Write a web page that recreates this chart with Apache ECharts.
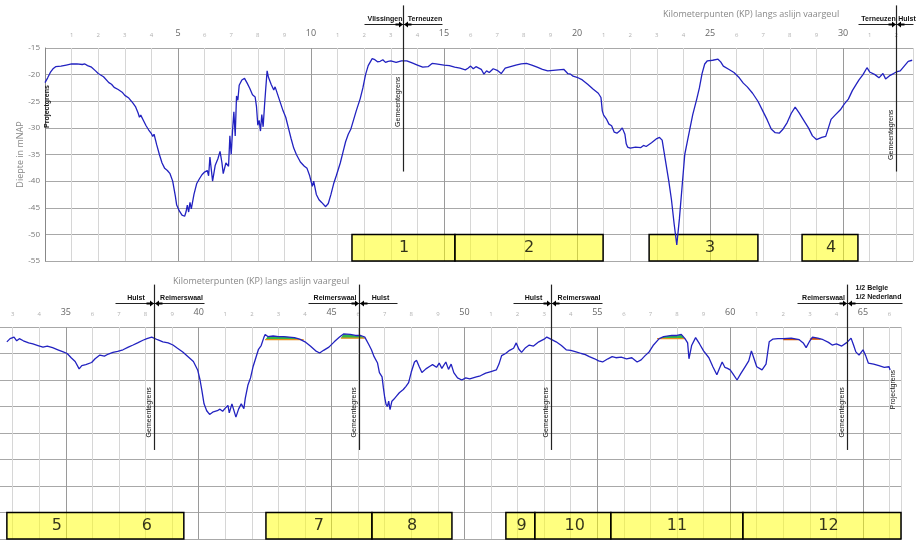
<!DOCTYPE html>
<html><head><meta charset="utf-8">
<script src="https://cdn.jsdelivr.net/npm/echarts@6/dist/echarts.min.js"></script>
<style>html,body{margin:0;padding:0;background:#fff}#c{width:922px;height:545px}</style>
</head><body><div id="c"></div>
<script>
// ---------- DATA ----------
const topProfile = [[0.0,-21.5],[0.1,-20.6],[0.2,-19.6],[0.3,-18.9],[0.4,-18.5],[0.6,-18.4],[0.8,-18.2],[1.0,-18.0],[1.2,-18.0],[1.4,-18.1],[1.5,-18.0],[1.6,-18.3],[1.75,-18.6],[1.9,-19.3],[2.0,-19.8],[2.2,-20.4],[2.4,-21.5],[2.5,-21.8],[2.6,-22.4],[2.75,-22.8],[2.9,-23.3],[3.0,-23.9],[3.15,-24.4],[3.3,-25.3],[3.4,-26.0],[3.5,-27.2],[3.55,-28.0],[3.6,-27.6],[3.7,-28.6],[3.8,-29.6],[3.9,-30.4],[4.0,-31.1],[4.05,-31.6],[4.1,-31.2],[4.2,-33.2],[4.3,-35.0],[4.4,-36.6],[4.5,-37.6],[4.6,-38.0],[4.7,-38.6],[4.8,-40.0],[4.9,-42.8],[4.95,-44.5],[5.05,-45.6],[5.15,-46.4],[5.25,-46.6],[5.3,-45.8],[5.35,-44.5],[5.4,-45.8],[5.45,-44.0],[5.5,-45.2],[5.6,-42.5],[5.7,-40.5],[5.8,-39.6],[5.9,-38.8],[6.0,-38.3],[6.1,-38.0],[6.15,-39.0],[6.2,-35.5],[6.3,-40.0],[6.4,-37.0],[6.5,-35.8],[6.58,-34.4],[6.65,-36.5],[6.7,-38.6],[6.8,-36.6],[6.9,-37.2],[6.95,-31.5],[7.0,-35.0],[7.05,-30.5],[7.1,-27.0],[7.15,-31.5],[7.2,-24.0],[7.25,-24.8],[7.3,-22.0],[7.4,-21.0],[7.5,-20.7],[7.6,-21.6],[7.7,-22.6],[7.8,-23.8],[7.9,-24.2],[7.95,-26.0],[8.0,-29.5],[8.05,-28.6],[8.1,-30.6],[8.15,-27.5],[8.2,-29.8],[8.25,-26.0],[8.3,-22.5],[8.35,-19.3],[8.4,-20.5],[8.5,-21.8],[8.6,-22.9],[8.65,-22.3],[8.75,-23.8],[8.85,-25.3],[8.95,-26.8],[9.05,-28.0],[9.15,-30.0],[9.25,-32.0],[9.35,-33.8],[9.45,-35.0],[9.6,-36.4],[9.75,-37.2],[9.85,-37.6],[9.95,-39.0],[10.05,-41.0],[10.1,-40.0],[10.2,-42.5],[10.3,-43.5],[10.4,-44.0],[10.55,-44.8],[10.65,-44.2],[10.75,-42.5],[10.85,-40.5],[10.95,-39.0],[11.1,-36.6],[11.2,-34.6],[11.3,-32.6],[11.4,-31.2],[11.5,-30.2],[11.6,-28.5],[11.7,-26.8],[11.85,-24.5],[11.95,-22.5],[12.05,-20.0],[12.15,-18.3],[12.3,-17.0],[12.4,-17.2],[12.5,-17.6],[12.6,-17.5],[12.7,-17.2],[12.8,-17.7],[12.9,-17.5],[13.0,-17.4],[13.2,-17.7],[13.4,-17.4],[13.6,-17.4],[13.8,-17.8],[14.0,-18.2],[14.2,-18.6],[14.4,-18.5],[14.55,-17.9],[14.7,-18.0],[15.0,-18.2],[15.2,-18.3],[15.4,-18.6],[15.6,-18.8],[15.8,-19.1],[15.9,-18.8],[16.0,-18.4],[16.1,-18.9],[16.2,-18.5],[16.4,-19.0],[16.5,-19.9],[16.6,-19.3],[16.7,-19.6],[16.85,-18.9],[17.0,-19.2],[17.15,-19.8],[17.3,-18.8],[17.5,-18.5],[17.7,-18.2],[17.9,-18.0],[18.1,-17.9],[18.3,-18.2],[18.5,-18.6],[18.7,-19.0],[18.9,-19.3],[19.1,-19.2],[19.3,-19.1],[19.5,-19.0],[19.65,-19.8],[19.75,-19.9],[19.85,-20.3],[20.0,-20.5],[20.2,-21.0],[20.4,-21.8],[20.6,-22.7],[20.8,-23.5],[20.9,-24.3],[20.95,-26.8],[21.0,-27.6],[21.1,-28.3],[21.2,-29.3],[21.3,-29.6],[21.4,-30.8],[21.5,-31.0],[21.6,-30.6],[21.7,-30.0],[21.8,-31.2],[21.85,-33.0],[21.9,-33.6],[22.0,-33.8],[22.2,-33.6],[22.4,-33.7],[22.5,-33.3],[22.6,-33.5],[22.8,-32.8],[23.0,-32.0],[23.1,-31.8],[23.2,-32.3],[23.3,-35.4],[23.45,-40.0],[23.55,-43.5],[23.65,-48.0],[23.75,-52.0],[23.85,-47.0],[23.95,-41.0],[24.05,-35.0],[24.15,-32.5],[24.25,-30.0],[24.35,-27.5],[24.5,-24.6],[24.6,-22.5],[24.7,-19.8],[24.8,-18.0],[24.9,-17.4],[25.1,-17.3],[25.3,-17.1],[25.4,-17.6],[25.5,-18.4],[25.7,-19.0],[25.9,-19.6],[26.1,-20.6],[26.25,-21.6],[26.4,-22.3],[26.6,-23.5],[26.8,-25.0],[27.0,-27.0],[27.15,-28.5],[27.3,-30.2],[27.45,-30.9],[27.6,-31.0],[27.75,-30.2],[27.9,-29.0],[28.05,-27.3],[28.2,-26.1],[28.35,-27.2],[28.5,-28.4],[28.7,-30.0],[28.85,-31.5],[29.0,-32.2],[29.2,-31.8],[29.35,-31.6],[29.45,-30.0],[29.55,-28.4],[29.7,-27.6],[29.9,-26.6],[30.05,-25.5],[30.2,-24.6],[30.35,-23.0],[30.5,-21.8],[30.6,-21.0],[30.75,-20.0],[30.9,-18.7],[31.0,-19.5],[31.2,-20.0],[31.35,-20.6],[31.5,-19.8],[31.6,-20.8],[31.75,-20.2],[31.9,-19.8],[32.0,-19.5],[32.15,-19.3],[32.3,-18.4],[32.45,-17.5],[32.6,-17.3]];

const bottomProfile = [[32.78,-17.8],[32.9,-17.2],[33.05,-16.9],[33.15,-17.6],[33.25,-17.2],[33.4,-17.6],[33.6,-18.0],[33.76,-18.2],[33.95,-18.5],[34.14,-18.8],[34.3,-18.6],[34.5,-18.9],[34.7,-19.3],[34.9,-19.7],[35.05,-20.0],[35.2,-20.8],[35.35,-21.5],[35.5,-22.9],[35.6,-22.3],[35.75,-22.1],[35.97,-21.7],[36.1,-21.0],[36.28,-20.3],[36.45,-20.5],[36.6,-20.1],[36.77,-19.8],[36.95,-19.6],[37.15,-19.3],[37.35,-18.8],[37.53,-18.4],[37.7,-18.0],[37.9,-17.5],[38.05,-17.2],[38.23,-16.9],[38.45,-17.4],[38.65,-17.8],[38.85,-18.0],[39.03,-18.4],[39.2,-19.0],[39.4,-19.7],[39.6,-20.6],[39.8,-21.5],[39.96,-23.1],[40.05,-25.0],[40.12,-27.0],[40.2,-29.5],[40.3,-30.8],[40.41,-31.5],[40.55,-31.0],[40.7,-30.8],[40.8,-30.5],[40.9,-30.9],[41.0,-30.3],[41.1,-29.8],[41.15,-31.2],[41.25,-29.5],[41.4,-32.0],[41.5,-30.5],[41.6,-29.5],[41.7,-30.4],[41.75,-28.5],[41.85,-26.0],[41.95,-24.6],[42.05,-22.4],[42.15,-20.8],[42.25,-19.2],[42.35,-18.5],[42.45,-17.0],[42.5,-16.4],[42.6,-16.8],[42.8,-16.7],[43.0,-16.8],[43.2,-16.8],[43.4,-16.9],[43.6,-17.0],[43.8,-17.3],[44.0,-17.8],[44.2,-18.6],[44.4,-19.5],[44.55,-19.9],[44.7,-19.4],[44.9,-18.8],[45.1,-17.8],[45.3,-16.9],[45.45,-16.3],[45.7,-16.4],[45.9,-16.6],[46.1,-16.6],[46.25,-16.9],[46.4,-18.3],[46.5,-19.3],[46.6,-20.6],[46.73,-21.8],[46.8,-23.6],[46.9,-24.4],[46.95,-26.5],[47.0,-28.3],[47.05,-29.6],[47.1,-30.0],[47.15,-29.0],[47.2,-30.6],[47.27,-29.0],[47.35,-28.6],[47.45,-28.0],[47.55,-27.4],[47.7,-26.8],[47.8,-26.2],[47.9,-25.5],[48.0,-23.5],[48.12,-21.6],[48.2,-21.3],[48.3,-22.5],[48.4,-23.6],[48.55,-22.9],[48.7,-22.4],[48.8,-22.1],[48.95,-22.6],[49.05,-21.8],[49.15,-22.8],[49.3,-21.6],[49.4,-23.0],[49.5,-22.0],[49.6,-23.6],[49.74,-24.6],[49.9,-25.0],[50.05,-24.6],[50.2,-24.8],[50.45,-24.4],[50.6,-24.2],[50.8,-23.7],[51.0,-23.4],[51.2,-23.1],[51.3,-22.0],[51.4,-20.4],[51.55,-20.0],[51.7,-19.4],[51.85,-19.0],[51.95,-18.0],[52.05,-19.2],[52.15,-19.8],[52.3,-18.9],[52.44,-18.4],[52.6,-18.6],[52.8,-17.8],[53.0,-17.3],[53.1,-16.9],[53.25,-17.3],[53.45,-17.8],[53.65,-18.5],[53.83,-19.3],[54.0,-19.4],[54.2,-19.7],[54.4,-20.0],[54.55,-20.2],[54.7,-20.6],[54.9,-21.0],[55.05,-21.4],[55.2,-21.6],[55.4,-21.0],[55.56,-20.6],[55.7,-20.8],[55.9,-20.7],[56.1,-21.0],[56.3,-20.8],[56.5,-21.6],[56.65,-21.2],[56.8,-20.4],[56.95,-19.7],[57.1,-18.5],[57.33,-17.2],[57.5,-16.8],[57.8,-16.6],[58.0,-16.6],[58.16,-16.4],[58.3,-17.2],[58.4,-18.0],[58.45,-21.0],[58.55,-18.5],[58.7,-17.0],[58.85,-18.2],[59.0,-19.5],[59.2,-20.8],[59.35,-22.5],[59.5,-24.0],[59.6,-22.8],[59.7,-21.6],[59.8,-22.6],[59.9,-22.8],[60.0,-23.1],[60.1,-23.8],[60.26,-25.0],[60.4,-23.8],[60.55,-22.6],[60.7,-21.4],[60.8,-19.5],[60.9,-21.0],[61.0,-22.5],[61.2,-23.1],[61.35,-22.0],[61.47,-17.8],[61.6,-17.3],[61.8,-17.2],[62.0,-17.2],[62.3,-17.1],[62.6,-17.4],[62.75,-18.0],[62.86,-18.9],[63.0,-17.6],[63.1,-16.9],[63.3,-17.1],[63.5,-17.4],[63.7,-17.9],[63.84,-18.4],[64.0,-18.2],[64.2,-18.6],[64.4,-17.9],[64.55,-17.1],[64.65,-18.5],[64.73,-19.7],[64.85,-20.3],[65.0,-19.3],[65.1,-20.4],[65.2,-21.8],[65.4,-22.0],[65.6,-22.3],[65.8,-22.6],[65.98,-22.5],[66.02,-23.1]];

// dredging areas above design level (bottom panel): start km, end km, level, kind
const fillStart = [42.5, 45.35, 57.25, 62.0, 63.0];
const fillEnd   = [43.95, 46.25, 58.3, 62.6, 63.4];
const fillLevel = [-17.4, -17.1, -17.2, -17.4, -17.3];
const fillKind  = ['g','g','g','r','r'];

// section boxes
const topBoxStart = [11.54, 15.41, 22.71, 28.46];
const topBoxEnd   = [15.41, 20.98, 26.80, 30.56];
const topBoxLabels = ['1','2','3','4'];
const topBoxLabelKm = [13.5, 18.2, 25.0, 29.55];
const botBoxStart = [32.78, 42.53, 46.52, 51.56, 52.65, 55.51, 60.48];
const botBoxEnd   = [39.44, 46.52, 49.53, 52.65, 55.51, 60.48, 66.43];
const botBoxLabels = ['5','6','7','8','9','10','11','12'];
const botBoxLabelKm = [34.66, 38.05, 44.52, 48.03, 52.15, 54.15, 58.0, 63.7];
const boxTop = -50, boxBottom = -55;

// municipal borders
const borderGrid  = [0, 0, 1, 1, 1, 1];
const borderKm    = [13.46, 31.99, 38.31, 46.03, 53.25, 64.39];
const borderLeft  = ['Vlissingen','Terneuzen','Hulst','Reimerswaal','Hulst','Reimerswaal'];
const borderRight = ['Terneuzen','Hulst','Reimerswaal','Hulst','Reimerswaal','1/2 Belgie\n1/2 Nederland'];
const borderTextDepth = [-25.1, -31.3, -31.1, -31.1, -31.1, -31.1];
const projectGrid = [0, 1];
const projectKm = [0.05, 66.0];
const projectTextDepth = [-26.0, -26.8];

const depthTicks = [-55,-50,-45,-40,-35,-30,-25,-20,-15];
const xTitle = 'Kilometerpunten (KP) langs aslijn vaargeul';
const yTitle = 'Diepte in mNAP';

// ---------- CHART ----------
const chart = echarts.init(document.getElementById('c'), null, {renderer: 'canvas'});
const MAJ = '#9a9a9a', MIN = '#d6d6d6';
function xAxisDef(gi, min, max) {
  return {
    type: 'value', gridIndex: gi, min: min, max: max, interval: 1, position: 'top',
    axisLine: {show: false}, axisTick: {show: false},
    axisLabel: {
      show: true, interval: 0, margin: 10, showMinLabel: true, showMaxLabel: true, hideOverlap: false,
      formatter: function (v) {
        if (Math.abs(v - Math.round(v)) > 1e-6 || v === 0) return '';
        v = Math.round(v);
        return v % 5 === 0 ? '{mj|' + v + '}' : '{mn|' + (v % 10) + '}';
      },
      rich: {
        mj: {fontSize: 9, color: '#666', fontFamily: 'Open Sans'},
        mn: {fontSize: 6, color: '#b0b0b0', fontFamily: 'Open Sans'}
      }
    },
    splitLine: {show: true, lineStyle: {color: [MAJ, MIN, MIN, MIN, MIN], width: 1}}
  };
}
function yAxisDef(gi, showLabels) {
  return {
    type: 'value', gridIndex: gi, min: -55, max: -15, interval: 5,
    axisLine: {show: true, lineStyle: {color: '#888'}}, axisTick: {show: false},
    axisLabel: {show: showLabels, fontSize: 8, color: '#777', margin: 5, fontFamily: 'Open Sans',
      formatter: v => depthTicks.indexOf(v) >= 0 ? String(v) : ''},
    splitLine: {show: true, lineStyle: {color: '#a8a8a8', width: 1}},
    name: showLabels ? yTitle : '', nameLocation: 'middle', nameGap: 20, nameRotate: 90, nameMoveOverlap: false,
    nameTextStyle: {fontSize: 9, color: '#888', fontFamily: 'Open Sans'}
  };
}
function boxAreas(starts, ends) {
  return starts.map((s, i) => [{xAxis: s, yAxis: boxBottom}, {xAxis: ends[i], yAxis: boxTop}]);
}
const lineColor = '#2222c0';
const series = [
  {type: 'line', xAxisIndex: 0, yAxisIndex: 0, data: topProfile, showSymbol: false, z: 5,
   lineStyle: {color: lineColor, width: 1.3}, itemStyle: {color: lineColor},
   markArea: {silent: true, itemStyle: {color: 'rgba(255,255,0,0.5)', borderColor: '#000', borderWidth: 1.5},
     label: {show: false}, data: boxAreas(topBoxStart, topBoxEnd)}},
  {type: 'line', xAxisIndex: 1, yAxisIndex: 1, data: bottomProfile, showSymbol: false, z: 5,
   lineStyle: {color: lineColor, width: 1.3}, itemStyle: {color: lineColor},
   markArea: {silent: true, itemStyle: {color: 'rgba(255,255,0,0.5)', borderColor: '#000', borderWidth: 1.5},
     label: {show: false}, data: boxAreas(botBoxStart, botBoxEnd)}}
];
// dredge fills
fillStart.forEach((s, i) => {
  const e = fillEnd[i], lv = fillLevel[i];
  const pts = [[s, lv]].concat(bottomProfile.filter(p => p[0] > s && p[0] < e).map(p => [p[0], Math.max(p[1], lv)])).concat([[e, lv]]);
  series.push({type: 'line', xAxisIndex: 1, yAxisIndex: 1, data: pts, showSymbol: false, z: 3,
    lineStyle: {width: 0}, areaStyle: {origin: lv, color: fillKind[i] === 'g' ? '#33b54a' : '#c0392b', opacity: 1}});
  series.push({type: 'line', xAxisIndex: 1, yAxisIndex: 1, data: [[s, lv], [e, lv]], showSymbol: false, z: 4,
    lineStyle: {width: 1.3, color: fillKind[i] === 'g' ? '#e8901c' : '#d35400'}});
});
// box labels
function labelSeries(xi, labels, kms) {
  return {type: 'scatter', xAxisIndex: xi, yAxisIndex: xi, symbolSize: 1, z: 6,
    itemStyle: {color: 'rgba(0,0,0,0)'},
    data: labels.map((t, i) => [kms[i], (boxTop + boxBottom) / 2, t]),
    label: {show: true, position: 'inside', formatter: p => p.value[2], fontSize: 16, color: '#000', fontFamily: 'DejaVu Sans'}};
}
series.push(labelSeries(0, topBoxLabels, topBoxLabelKm));
series.push(labelSeries(1, botBoxLabels, botBoxLabelKm));

chart.setOption({
  animation: false,
  backgroundColor: '#fff',
  grid: [{left: 45, top: 48, width: 868, height: 213, outerBoundsMode: 'none', containLabel: false},
         {left: -67, top: 327, width: 968, height: 212, outerBoundsMode: 'none', containLabel: false}],
  xAxis: [xAxisDef(0, 0, 32.63), xAxisDef(1, 30, 66.43)],
  yAxis: [yAxisDef(0, true), yAxisDef(1, false)],
  series: series
});

// ---------- annotations positioned through the axes ----------
const ulHalf = [[39,39],[38,17],[39,50],[51,38],[38,51],[50,55]];
const g = [];
function P(gi, x, y) { return chart.convertToPixel({gridIndex: gi}, [x, y]); }
const lblFont = 'bold 7px "Liberation Sans"';
borderKm.forEach((km, i) => {
  const gi = borderGrid[i];
  const a = P(gi, km, -7), b = P(gi, km, -38.2), u = P(gi, km, -10.4);
  const x = Math.round(a[0]) + 0.5, uy = Math.round(u[1]) + 0.5;
  g.push({type: 'line', shape: {x1: x, y1: a[1], x2: x, y2: b[1]}, style: {stroke: '#222', lineWidth: 1.2}, z: 20});
  g.push({type: 'line', shape: {x1: x - ulHalf[i][0], y1: uy, x2: x + ulHalf[i][1], y2: uy}, style: {stroke: '#222', lineWidth: 1}, z: 20});
  g.push({type: 'polygon', shape: {points: [[x - 8, uy - 1], [x - 4.5, uy - 1], [x - 4.5, uy - 3], [x - 0.5, uy], [x - 4.5, uy + 3], [x - 4.5, uy + 1], [x - 8, uy + 1]]}, style: {fill: '#000'}, z: 21});
  g.push({type: 'polygon', shape: {points: [[x + 8, uy - 1], [x + 4.5, uy - 1], [x + 4.5, uy - 3], [x + 0.5, uy], [x + 4.5, uy + 3], [x + 4.5, uy + 1], [x + 8, uy + 1]]}, style: {fill: '#000'}, z: 21});
  g.push({type: 'text', x: x - ulHalf[i][0] / 2 + 1, y: uy - 1.5, style: {text: borderLeft[i], fill: '#111', font: lblFont, align: 'center', verticalAlign: 'bottom'}, z: 21});
  const multi = borderRight[i].indexOf('\n') >= 0;
  const rs = {text: borderRight[i], fill: '#111', font: lblFont, align: multi ? 'left' : 'center', verticalAlign: 'bottom'};
  if (multi) rs.lineHeight = 9;
  g.push({type: 'text', x: multi ? x + 8 : x + ulHalf[i][1] / 2 + 2, y: uy - 1.5, style: rs, z: 21});
  const t = P(gi, km, borderTextDepth[i]);
  g.push({type: 'text', x: x - 5, y: t[1], rotation: Math.PI / 2,
    style: {text: 'Gemeentegrens', fill: '#111', font: '7px "Liberation Sans"', align: 'center', verticalAlign: 'middle'}, z: 21});
});
projectKm.forEach((km, i) => {
  const t = P(projectGrid[i], km, projectTextDepth[i]);
  g.push({type: 'text', x: t[0] + (i === 0 ? 1 : 3), y: t[1], rotation: Math.PI / 2,
    style: {text: 'Projectgrens', fill: '#111', font: (i === 0 ? 'bold ' : '') + '7px "Liberation Sans"', align: 'center', verticalAlign: 'middle'}, z: 21});
});
g.push({type: 'text', left: 663, top: 10, style: {text: xTitle, fill: '#888', font: '9px "Open Sans"'}, z: 21});
g.push({type: 'text', left: 173, top: 277, style: {text: xTitle, fill: '#888', font: '9px "Open Sans"'}, z: 21});
chart.setOption({graphic: g});
</script>
</body></html>
